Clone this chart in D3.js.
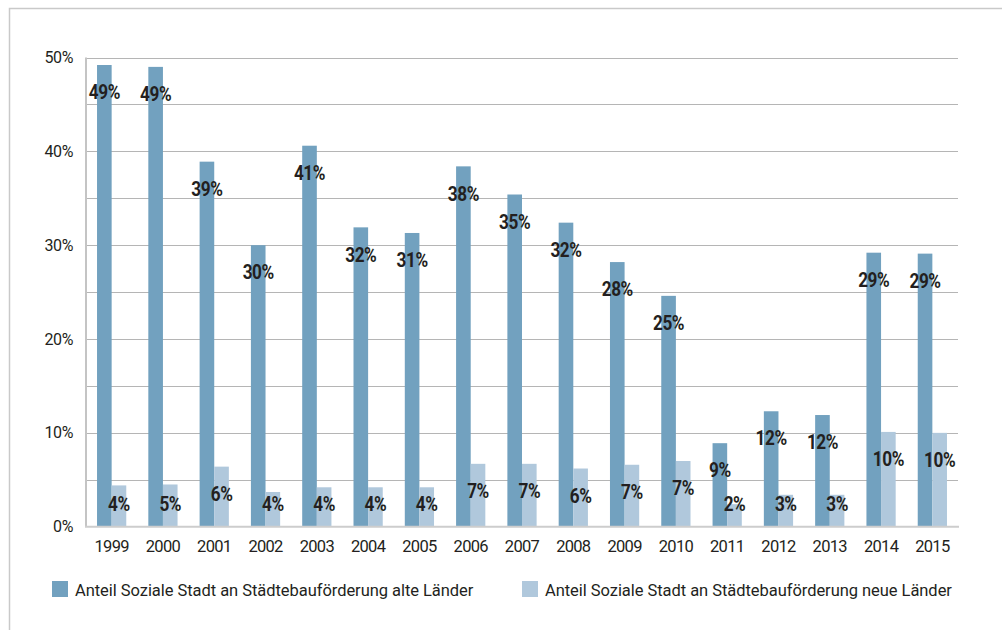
<!DOCTYPE html>
<html>
<head>
<meta charset="utf-8">
<script src="https://cdn.jsdelivr.net/npm/d3@7"></script>
<style>
  body { margin: 0; background: #fff; }
  svg { display: block; font-family: Roboto, sans-serif; }
</style>
</head>
<body>
<svg id="chart" width="1002" height="630"></svg>
<script>
// values, in percent
const years = ['1999', '2000', '2001', '2002', '2003', '2004', '2005', '2006', '2007',
  '2008', '2009', '2010', '2011', '2012', '2013', '2014', '2015']
const alteLaender = [49.2, 49.0, 38.9, 30.0, 40.6, 31.9, 31.3, 38.4, 35.4,
  32.4, 28.2, 24.6, 8.9, 12.3, 11.9, 29.2, 29.1]
const neueLaender = [4.4, 4.5, 6.4, 3.7, 4.2, 4.2, 4.2, 6.7, 6.7,
  6.2, 6.6, 7.0, 2.4, 3.4, 3.4, 10.1, 10.0]
const seriesNames = [
  'Anteil Soziale Stadt an Städtebauförderung alte Länder',
  'Anteil Soziale Stadt an Städtebauförderung neue Länder'
]
const yTicks = [0, 10, 20, 30, 40, 50]
const gridTicks = [5, 10, 15, 20, 25, 30, 35, 40, 45, 50]

const colors = ['#72a1bf', '#b0c8dc']
const textColor = '#231f20'

let config = {
  left: 86,
  right: 958,
  top: 57.5,
  bottom: 526.7,
}

const svg = d3.select('#chart')

// outer frame (only top and left edges are visible)
svg.append('path')
  .attr('d', 'M9.5,630 V8.5 H1002')
  .attr('fill', 'none')
  .attr('stroke', '#c9c9c9')
  .attr('stroke-width', 1.5)

const x0 = d3.scaleBand()
  .domain(years)
  .range([config.left, config.right])
  .paddingInner(0.43)
  .paddingOuter(0.215)

const x1 = d3.scaleBand()
  .domain([0, 1])
  .range([0, x0.bandwidth()])

const y = d3.scaleLinear()
  .domain([0, 50])
  .range([config.bottom, config.top])

// gridlines
svg.append('g')
  .selectAll('line')
  .data(gridTicks)
  .join('line')
  .attr('x1', config.left)
  .attr('x2', config.right)
  .attr('y1', d => Math.round(y(d)) + 0.5)
  .attr('y2', d => Math.round(y(d)) + 0.5)
  .attr('stroke', '#b5b5b5')
  .attr('stroke-width', 1)

// left axis line
svg.append('line')
  .attr('x1', config.left).attr('x2', config.left)
  .attr('y1', config.top).attr('y2', config.bottom)
  .attr('stroke', '#c4c4c4')
  .attr('stroke-width', 2)

// bars
const table = years.map((yr, i) => ({ year: yr, values: [alteLaender[i], neueLaender[i]] }))

const groups = svg.append('g')
  .selectAll('g')
  .data(table)
  .join('g')
  .attr('transform', d => `translate(${x0(d.year)},0)`)

groups.selectAll('rect')
  .data(d => d.values)
  .join('rect')
  .attr('x', (d, i) => x1(i))
  .attr('width', x1.bandwidth())
  .attr('y', d => y(d))
  .attr('height', d => y(0) - y(d))
  .attr('fill', (d, i) => colors[i])

// baseline
svg.append('line')
  .attr('x1', config.left - 1).attr('x2', config.right + 1)
  .attr('y1', config.bottom).attr('y2', config.bottom)
  .attr('stroke', '#cdcdcd')
  .attr('stroke-width', 2)

// data labels (condensed look: squeeze horizontally)
groups.selectAll('text')
  .data(d => d.values)
  .join('text')
  .attr('transform', (d, i) =>
    `translate(${x1(i) + x1.bandwidth() / 2},${Math.min(y(d) + 27, 504)}) scale(0.86,1)`)
  .attr('dy', '0.36em')
  .attr('text-anchor', 'middle')
  .attr('font-weight', 700)
  .attr('font-size', 20)
  .attr('letter-spacing', -0.5)
  .attr('fill', textColor)
  .text(d => Math.round(d) + '%')

// y axis
const yAxis = d3.axisLeft(y)
  .tickValues(yTicks)
  .tickFormat(d => d + '%')
  .tickSize(0)
  .tickPadding(13)

const yAxisG = svg.append('g')
  .attr('transform', `translate(${config.left},0)`)
  .call(yAxis)
yAxisG.select('.domain').remove()
yAxisG.selectAll('text')
  .attr('font-family', 'Roboto, sans-serif')
  .attr('font-size', 16)
  .attr('letter-spacing', -0.4)
  .attr('fill', textColor)

// x axis
const xAxis = d3.axisBottom(x0)
  .tickSize(0)
  .tickPadding(14)

const xAxisG = svg.append('g')
  .attr('transform', `translate(0,${config.bottom})`)
  .call(xAxis)
xAxisG.select('.domain').remove()
xAxisG.selectAll('text')
  .attr('font-family', 'Roboto, sans-serif')
  .attr('font-size', 16.5)
  .attr('letter-spacing', -0.7)
  .attr('fill', textColor)

// legend
const legend = svg.append('g')
  .selectAll('g')
  .data(seriesNames)
  .join('g')
  .attr('transform', (d, i) => `translate(${[52, 522][i]},581)`)

legend.append('rect')
  .attr('width', 16)
  .attr('height', 16)
  .attr('fill', (d, i) => colors[i])

legend.append('text')
  .attr('x', 23)
  .attr('y', 14.5)
  .attr('font-family', 'Roboto, sans-serif')
  .attr('font-size', 16.5)
  .attr('letter-spacing', -0.05)
  .attr('fill', textColor)
  .text(d => d)
</script>
</body>
</html>
